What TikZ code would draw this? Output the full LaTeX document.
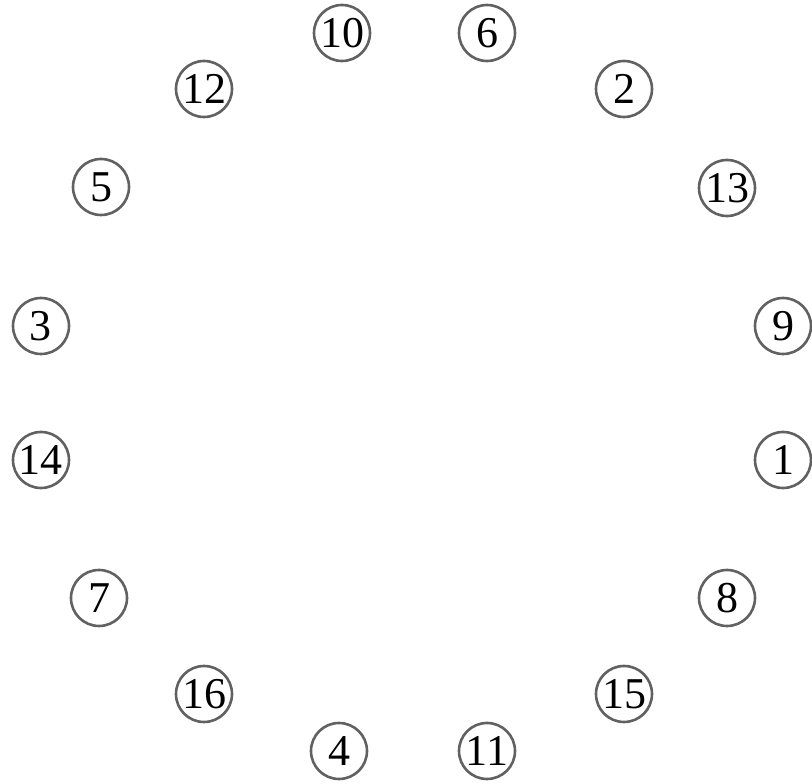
\documentclass[tikz,border=0pt]{standalone}
\usepackage{fontspec}
\setmainfont{Liberation Serif}
\begin{document}
\begin{tikzpicture}[x=1pt,y=1pt,
  vtx/.style={circle,draw=black!62,line width=2.6pt,minimum size=56pt,inner sep=0pt,
    font=\fontsize{44}{44}\selectfont,text=black}]
\useasboundingbox (0,0) rectangle (812,784);
\node[vtx] (n10) at (342,751) {10};
\node[vtx] (n6)  at (487,751) {6};
\node[vtx] (n12) at (204,695) {12};
\node[vtx] (n2)  at (624,695) {2};
\node[vtx] (n5)  at (101,597) {5};
\node[vtx] (n13) at (727,596) {13};
\node[vtx] (n3)  at (41,458) {3};
\node[vtx] (n9)  at (783,458) {9};
\node[vtx] (n14) at (41,324) {14};
\node[vtx] (n1)  at (783,324) {1};
\node[vtx] (n7)  at (99,186) {7};
\node[vtx] (n8)  at (727,186) {8};
\node[vtx] (n16) at (204,90) {16};
\node[vtx] (n15) at (624,90) {15};
\node[vtx] (n4)  at (339,33) {4};
\node[vtx] (n11) at (487,33) {11};
\end{tikzpicture}
\end{document}
